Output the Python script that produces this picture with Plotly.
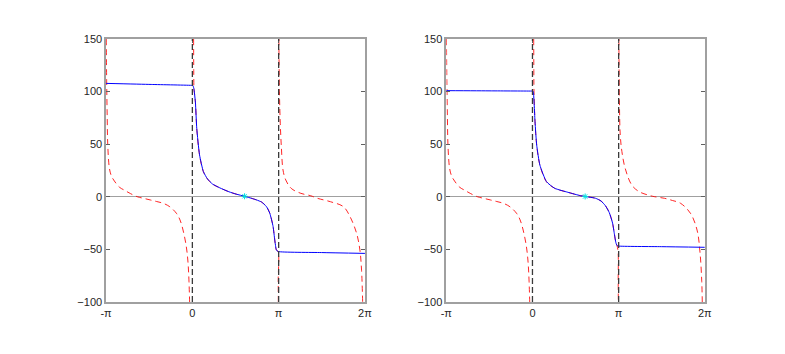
import numpy as np
import plotly.graph_objects as go
from plotly.subplots import make_subplots

PI = np.pi

# blue curve, left panel
blue_l_x = [-PI, -1.5, 0.0, 0.02, 0.054, 0.11, 0.16, 0.26, 0.40, 0.55, 0.73, 1.0, 1.33, 1.6,
            1.90, 2.2, 2.34, 2.52, 2.70, 2.82, 2.94, 3.0, 3.06, 3.12, 4.7, 2 * PI]
blue_l_y = [107.8, 106.8, 105.9, 105.8, 103, 90, 65, 40, 24, 17, 12.2, 8.5, 4.8, 2.5,
            0.5, -1.8, -3, -5, -9.4, -15.7, -28.4, -41, -50.6, -52, -53, -53.8]

# blue curve, right panel
blue_r_x = [-PI, -1.5, 0.0, 0.02, 0.036, 0.093, 0.154, 0.27, 0.51, 0.81, 1.29, 1.76, 2.30,
            2.5, 2.66, 2.80, 2.92, 2.99, 3.04, 3.08, 3.12, 4.7, 2 * PI]
blue_r_y = [100.9, 100.7, 100.5, 100.5, 99.3, 71.4, 49.2, 30.2, 14.4, 8.1, 4.3, 1.0, -1.4,
            -4, -8.5, -15, -25, -36, -43.5, -46.3, -46.8, -47.4, -48]

# cyan markers
mark_l = (1.90, 0.5)
mark_r = (1.92, 0.3)

# red dashed curve, branch on (-pi, 0)
red_a_x = [-3.135, -3.12, -3.10, -3.08, -3.02, -2.95, -2.84, -2.65, -2.49, -2.25, -2.01,
           -1.77, -1.53, -1.30, -1.06, -0.82, -0.58, -0.45, -0.34, -0.22, -0.16, -0.125, -0.10]
red_a_y = [150, 110, 75, 49, 27, 20, 15, 9, 6.5, 3, 0.1,
           -1.5, -3, -4.5, -6.2, -9.5, -15.7, -22, -31.6, -47.4, -62, -79, -100]

# red dashed, start/end of branch on (0, pi) (middle part lies under the blue curve)
red_b_top_x = [0.045, 0.05, 0.054]
red_b_top_y = [150, 120, 103]
red_b_bot_x = [3.12, 3.125, 3.13]
red_b_bot_y = [-52, -80, -100]

# red dashed, branch on (pi, 2pi)
red_c_l_x = [3.15, 3.17, 3.20, 3.24, 3.30, 3.40, 3.60, 3.95, 4.31, 4.55, 5.03, 5.50,
             5.74, 5.98, 6.10, 6.16, 6.20]
red_c_l_y = [150, 100, 70, 47.6, 25.5, 16, 8, 3.3, 1.0, -1.4, -4.7, -9.4,
             -18.9, -34.7, -50.6, -69.6, -100]
red_c_r_x = [3.15, 3.17, 3.20, 3.26, 3.38, 3.62, 3.88, 4.21, 4.45, 4.81, 5.10, 5.40,
             5.76, 6.0, 6.11, 6.17, 6.19]
red_c_r_y = [150, 90, 58.7, 43, 27, 11.2, 5, 1.7, 0.1, -1.4, -3.5, -6.2,
             -15.7, -31.6, -53.7, -80, -100]

vline_x = [0, PI]
x_ticks = [-PI, 0, PI, 2 * PI]
x_labels = ["-π", "0", "π", "2π"]
y_ticks = [-100, -50, 0, 50, 100, 150]

red = dict(color="rgba(255,0,0,0.85)", width=1, dash="6px,4px")
blue = dict(color="#0000ff", width=1)

fig = make_subplots(rows=1, cols=2)

panels = [
    (1, blue_l_x, blue_l_y, red_c_l_x, red_c_l_y, mark_l),
    (2, blue_r_x, blue_r_y, red_c_r_x, red_c_r_y, mark_r),
]
for col, bx, by, rcx, rcy, mk in panels:
    # red middle branch follows the blue curve between the asymptotes
    mid = [i for i, v in enumerate(bx) if 0.05 < v < 3.12]
    rbx = red_b_top_x + [bx[i] for i in mid] + red_b_bot_x
    rby = red_b_top_y + [by[i] for i in mid] + red_b_bot_y
    for xs, ys in [(red_a_x, red_a_y), (rbx, rby), (rcx, rcy)]:
        fig.add_trace(go.Scatter(x=xs, y=ys, mode="lines", line=red,
                                 line_shape="spline"), row=1, col=col)
    for v in vline_x:
        fig.add_vline(x=v, line=dict(color="#3a3a3a", width=1.3, dash="6px,3px"),
                      row=1, col=col)
    fig.add_trace(go.Scatter(x=bx, y=by, mode="lines", line=blue,
                             line_shape="spline", line_smoothing=0.5), row=1, col=col)
    fig.add_trace(go.Scatter(x=[mk[0]], y=[mk[1]], mode="markers",
                             marker=dict(symbol="asterisk-open", size=5, color="#00e0e0",
                                         line=dict(color="#00e0e0", width=1))),
                  row=1, col=col)

axis_style = dict(showline=True, linecolor="#a0a0a0", linewidth=1.5, mirror="ticks",
                  ticks="inside", ticklen=4, tickcolor="#606060", showgrid=False,
                  tickfont=dict(family="Liberation Sans", size=11, color="#262626"))

fig.update_xaxes(range=[-PI, 2 * PI], tickvals=x_ticks, ticktext=x_labels,
                 zeroline=False, **axis_style)
fig.update_yaxes(range=[-100, 150], tickvals=y_ticks, zeroline=True,
                 zerolinecolor="#a0a0a0", zerolinewidth=1, **axis_style)

# the page body adds an 8px margin, so the figure is a little smaller than the window
fig.update_layout(
    width=769, height=338,
    margin=dict(l=0, r=0, t=31, b=44),
    xaxis=dict(domain=[0.1218, 0.4642]),
    xaxis2=dict(domain=[0.5718, 0.9138]),
    plot_bgcolor="white", paper_bgcolor="white",
    showlegend=False,
)

fig.write_html("out.html")
